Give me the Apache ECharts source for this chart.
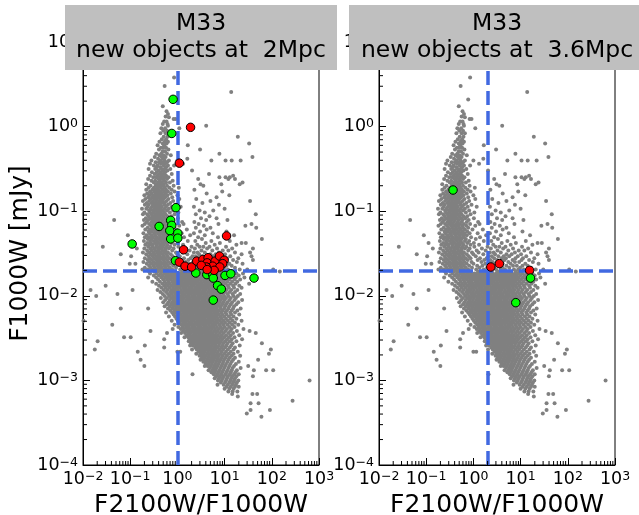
<!DOCTYPE html>
<html><head><meta charset="utf-8">
<script src="https://cdn.jsdelivr.net/npm/echarts@6/dist/echarts.min.js"></script>
<style>html,body{margin:0;padding:0;background:#fff}#c{width:639px;height:515px}</style>
</head><body><div id="c"></div>
<script>
// ---------- text ----------
const panelTitles = ['M33\nnew objects at  2Mpc', 'M33\nnew objects at  3.6Mpc'];
const xName = 'F2100W/F1000W';
const yName = 'F1000W [mJy]';
// ---------- axes ----------
const xTicks = [0.01, 0.1, 1, 10, 100, 1000];
const yTicks = [0.0001, 0.001, 0.01, 0.1, 1, 10];
// ---------- cut lines ----------
const xCuts = [1, 2];      // vertical dashed line, per panel
const yCut = 0.02;         // horizontal dashed line (mJy)
// ---------- gray background sources (same in both panels) ----------
// each row: [log10(F1000W), log10(ratio), log10(ratio), ...]
const grayRows = [
[0.58,-0.07],[0.48,-0.27],[0.41,1.14],[0.32,-0.11],[0.24,-0.31],[0.18,-0.23],[0.15,-0.20],[0.12,-0.25],[0.11,-0.18],
[0.09,-0.08,-0.04],[0.06,-0.23,-0.28],[0.03,-0.31,-0.21],[0.01,-0.20,0.61],[-0.02,-0.26,-0.34,0.04],[-0.05,-0.22,-0.30],
[-0.08,-0.36,-0.25,-0.18],[-0.12,-0.29,-0.21,1.28],[-0.15,-0.33,-0.24],[-0.18,-0.38,-0.27,-0.20],[-0.20,-0.31,-0.23,1.52],
[-0.22,-0.42,-0.28,0.22],[-0.25,-0.35,-0.24,-0.30],[-0.27,-0.39,-0.19,0.48],[-0.29,-0.31,-0.26],[-0.32,-0.45,-0.34,-0.22,0.89],
[-0.34,-0.38,-0.29,-0.14],[-0.36,-0.48,-0.33,-0.25,1.59],[-0.38,-0.41,-0.30,0.21],[-0.40,-0.55,-0.36,-0.27,-0.18,0.00,0.72,1.02,1.15,1.34],
[-0.42,-0.46,-0.39,-0.31,-0.22],[-0.44,-0.58,-0.35,-0.26,0.12],[-0.46,-0.50,-0.42,-0.29,-0.20,-0.07],[-0.48,-0.44,-0.36,-0.24],
[-0.50,-0.61,-0.47,-0.33,-0.27,-0.15],[-0.52,-0.40,-0.30,-0.21,0.31],[-0.54,-0.54,-0.44,-0.35,-0.26],[-0.56,-0.48,-0.38,-0.29,-0.12,0.67],
[-0.58,-0.58,-0.42,-0.33,-0.24,1.18],[-0.60,-0.51,-0.45,-0.36,-0.27,-0.19,0.89,1.02,1.11],[-0.62,-0.62,-0.40,-0.31,-0.22,0.44,1.22,1.08],
[-0.64,-0.55,-0.47,-0.37,-0.28,-0.10],[-0.66,-0.50,-0.41,-0.33,-0.24,-0.16,1.38],[-0.68,-0.66,-0.45,-0.36,-0.29,0.49,0.93,1.32],
[-0.700,-0.57,-0.46,-0.39,-0.31,-0.22,-0.08,0.55],
[-0.722,-0.61,-0.50,-0.43,-0.35,-0.27,-0.17,0.03],
[-0.745,-0.66,-0.53,-0.47,-0.40,-0.32,-0.24,-0.12,0.36],
[-0.768,-0.58,-0.49,-0.42,-0.36,-0.28,-0.20,-0.06,0.95],
[-0.790,-0.64,-0.55,-0.46,-0.39,-0.33,-0.25,-0.14,0.62],
[-0.812,-0.70,-0.59,-0.51,-0.44,-0.37,-0.29,-0.21,0.00,1.10],
[-0.835,-0.62,-0.53,-0.47,-0.41,-0.34,-0.26,-0.11,0.83],
[-0.857,-0.68,-0.57,-0.49,-0.43,-0.36,-0.30,-0.19,0.04,0.40],
[-0.880,-0.73,-0.60,-0.52,-0.45,-0.38,-0.31,-0.23,-0.09,0.70,1.54],
[-0.902,-0.65,-0.55,-0.48,-0.41,-0.34,-0.27,-0.15,0.53],
[-0.925,-0.69,-0.61,-0.51,-0.44,-0.37,-0.28,-0.20,-0.04,0.88],
[-0.947,-0.63,-0.54,-0.47,-0.40,-0.33,-0.24,-0.12,0.07,0.35],
[-0.970,-0.75,-0.66,-0.57,-0.49,-0.42,-0.35,-0.27,-0.18,1.00],
[-0.992,-0.60,-0.52,-0.45,-0.38,-0.31,-0.22,-0.09,0.47,0.76],
[-1.015,-0.70,-0.58,-0.50,-0.43,-0.36,-0.28,-0.16,0.02,0.58],
[-1.037,-0.73,-0.64,-0.55,-0.47,-0.40,-0.33,-0.25,-0.06,0.39,1.66],
[-1.060,-0.61,-0.52,-0.45,-0.38,-0.30,-0.21,-0.13,0.68],
[-1.082,-0.67,-0.57,-0.49,-0.42,-0.35,-0.26,-0.17,0.01,0.50,0.83],
[-1.105,-1.34,-0.71,-0.62,-0.53,-0.46,-0.39,-0.31,-0.23,-0.10,0.61,1.06],
[-1.127,-0.65,-0.55,-0.48,-0.41,-0.33,-0.25,-0.14,0.10,0.36],
[-1.150,-0.69,-0.60,-0.51,-0.44,-0.36,-0.29,-0.20,-0.07,0.13,0.45,0.87,1.57],
[-1.172,-0.74,-0.56,-0.47,-0.40,-0.32,-0.24,-0.15,0.04,0.56,1.44],
[-1.195,-0.63,-0.53,-0.45,-0.37,-0.30,-0.22,-0.11,0.39,0.70,1.67],
[-1.217,-0.68,-0.58,-0.50,-0.42,-0.35,-0.27,-0.18,-0.02,0.20,0.62],
[-1.240,-0.61,-0.54,-0.46,-0.39,-0.31,-0.23,-0.13,0.48,1.04],
[-1.262,-0.72,-0.59,-0.49,-0.41,-0.34,-0.26,-0.19,-0.08,0.09,0.35,0.75],
[-1.285,-1.05,-0.65,-0.55,-0.47,-0.38,-0.30,-0.22,-0.14,0.27,0.58,1.20],
[-1.307,-0.69,-0.60,-0.52,-0.44,-0.36,-0.28,-0.20,-0.05,0.14,0.44,0.86],
[-1.330,-0.63,-0.55,-0.46,-0.39,-0.32,-0.25,-0.16,0.05,0.52,1.79],
[-1.352,-0.71,-0.58,-0.50,-0.43,-0.35,-0.27,-0.18,-0.09,0.22,0.38,0.72,1.11],
[-1.375,-0.95,-0.64,-0.56,-0.47,-0.40,-0.32,-0.24,-0.13,0.01,0.60,0.90,1.45,1.36],
[-1.397,-0.68,-0.59,-0.52,-0.44,-0.36,-0.29,-0.21,-0.06,0.12,0.42,0.79,1.25],
[-1.420,-1.58,-0.62,-0.53,-0.45,-0.38,-0.31,-0.23,-0.15,0.02,0.30,0.47,0.55,0.68,1.03],
[-1.442,-0.86,-0.70,-0.57,-0.49,-0.41,-0.34,-0.26,-0.18,-0.08,0.18,0.37,0.63,0.84,1.16,1.60],
[-1.465,-0.64,-0.55,-0.47,-0.40,-0.32,-0.25,-0.11,0.07,0.26,0.51,0.74,0.96,1.08],
[-1.487,-0.73,-0.60,-0.51,-0.43,-0.36,-0.28,-0.20,-0.03,0.11,0.35,0.43,0.58,0.88,1.22,1.54],
[-1.510,-1.20,-0.66,-0.56,-0.48,-0.39,-0.31,-0.23,-0.14,0.00,0.21,0.46,0.70,0.81,1.01,1.36],
[-1.532,-0.98,-0.61,-0.52,-0.44,-0.37,-0.29,-0.21,-0.10,0.05,0.32,0.39,0.53,0.64,0.76,0.94,1.12,1.57],
[-1.555,-0.69,-0.58,-0.49,-0.41,-0.33,-0.26,-0.17,-0.06,0.14,0.28,0.44,0.60,0.69,0.89,1.05,1.29],
[-1.577,-0.63,-0.54,-0.45,-0.38,-0.30,-0.22,-0.12,0.09,0.23,0.36,0.50,0.66,0.83,1.02,1.18,1.60],
[-1.600,-0.72,-0.59,-0.50,-0.42,-0.35,-0.27,-0.19,-0.04,0.17,0.33,0.41,0.57,0.74,0.88,0.97,1.26],
[-1.622,-1.01,-0.89,-0.65,-0.55,-0.47,-0.39,-0.31,-0.24,-0.14,0.00,0.25,0.47,0.52,0.62,0.79,1.10,1.38],
[-1.645,-0.60,-0.51,-0.43,-0.36,-0.28,-0.20,-0.09,0.08,0.19,0.38,0.55,0.70,0.84,0.92,1.04,1.15],
[-1.667,-0.69,-0.57,-0.48,-0.40,-0.33,-0.25,-0.16,-0.03,0.13,0.29,0.44,0.62,0.76,0.99,1.22],
[-1.690,-0.74,-0.63,-0.53,-0.45,-0.37,-0.29,-0.21,-0.11,0.06,0.22,0.34,0.48,0.58,0.67,0.86,0.95,1.07,1.32,1.48,2.03],
[-1.712,-0.60,-0.49,-0.41,-0.33,-0.25,-0.17,-0.07,0.10,0.19,0.31,0.39,0.51,0.65,0.78,0.90,0.98,1.17,2.17],
[-1.735,-0.58,-0.44,-0.35,-0.27,-0.20,-0.12,-0.05,0.02,0.09,0.15,0.22,0.28,0.35,0.41,0.48,0.55,0.61,0.68,0.74,0.81,0.88,0.95,1.03,1.12,1.25,1.39],
[-1.760,-0.50,-0.39,-0.31,-0.23,-0.16,-0.09,-0.01,0.05,0.12,0.19,0.25,0.32,0.38,0.45,0.51,0.58,0.64,0.71,0.78,0.85,0.91,0.99,1.08,1.18,1.30],
[-1.784,-0.62,-0.45,-0.34,-0.26,-0.18,-0.11,-0.04,0.03,0.09,0.16,0.23,0.29,0.36,0.42,0.49,0.56,0.62,0.69,0.75,0.82,0.89,0.96,1.05,1.14,1.24,1.42],
[-1.808,-0.41,-0.30,-0.22,-0.14,-0.07,0.00,0.07,0.13,0.20,0.27,0.33,0.40,0.46,0.53,0.59,0.66,0.73,0.79,0.86,0.93,1.01,1.10,1.21,1.33],
[-1.833,-0.53,-0.37,-0.27,-0.19,-0.11,-0.04,0.04,0.10,0.17,0.24,0.30,0.37,0.43,0.50,0.57,0.63,0.70,0.76,0.83,0.90,0.98,1.06,1.16,1.27],
[-1.857,-0.45,-0.32,-0.24,-0.16,-0.08,-0.01,0.06,0.13,0.19,0.26,0.33,0.39,0.46,0.52,0.59,0.65,0.72,0.79,0.86,0.94,1.02,1.12,1.23,1.52],
[-1.881,-1.52,-0.39,-0.28,-0.20,-0.12,-0.05,0.02,0.09,0.16,0.22,0.29,0.35,0.42,0.48,0.55,0.62,0.68,0.75,0.82,0.89,0.97,1.07,1.18,1.31],
[-1.905,-0.34,-0.25,-0.17,-0.09,-0.02,0.05,0.12,0.18,0.25,0.31,0.38,0.44,0.51,0.57,0.64,0.71,0.77,0.84,0.92,1.00,1.09,1.20,1.36],
[-1.930,-1.84,-0.95,-0.42,-0.29,-0.21,-0.13,-0.06,0.01,0.08,0.15,0.21,0.28,0.34,0.41,0.47,0.54,0.60,0.67,0.74,0.80,0.87,0.95,1.04,1.14,1.27],
[-1.954,-0.36,-0.24,-0.15,-0.08,-0.01,0.06,0.12,0.19,0.25,0.32,0.38,0.45,0.52,0.58,0.65,0.71,0.78,0.85,0.93,1.01,1.11,1.22],
[-1.978,-1.27,-0.31,-0.20,-0.12,-0.04,0.03,0.10,0.16,0.23,0.29,0.36,0.42,0.49,0.55,0.62,0.69,0.75,0.82,0.89,0.97,1.06,1.17,1.33],
[-2.003,-1.72,-0.27,-0.17,-0.09,-0.02,0.05,0.11,0.18,0.24,0.31,0.37,0.44,0.50,0.57,0.63,0.70,0.77,0.84,0.91,0.99,1.08,1.19,1.28],
[-2.027,-0.35,-0.22,-0.13,-0.06,0.01,0.08,0.14,0.21,0.27,0.34,0.40,0.47,0.53,0.60,0.66,0.73,0.80,0.87,0.95,1.03,1.13,1.24],
[-2.051,-0.26,-0.16,-0.08,-0.01,0.06,0.12,0.19,0.26,0.32,0.39,0.45,0.52,0.58,0.65,0.71,0.78,0.85,0.92,1.00,1.10,1.21,1.37],
[-2.076,-0.30,-0.19,-0.11,-0.04,0.03,0.10,0.16,0.23,0.29,0.36,0.42,0.49,0.55,0.62,0.68,0.75,0.82,0.89,0.97,1.06,1.16,1.29],
[-2.100,-0.22,-0.13,-0.06,0.01,0.08,0.14,0.21,0.28,0.34,0.41,0.47,0.54,0.60,0.67,0.73,0.80,0.87,0.95,1.03,1.13,1.25],
[-2.124,-0.27,-0.16,-0.08,-0.01,0.06,0.12,0.19,0.25,0.32,0.38,0.45,0.51,0.58,0.64,0.71,0.78,0.85,0.92,1.01,1.10,1.20],
[-2.149,-1.20,-0.62,-0.20,-0.11,-0.03,0.04,0.11,0.17,0.24,0.30,0.37,0.43,0.50,0.56,0.63,0.70,0.76,0.83,0.91,0.99,1.08,1.18,1.34],
[-2.173,-0.15,-0.06,0.01,0.08,0.15,0.21,0.28,0.34,0.41,0.47,0.54,0.60,0.67,0.74,0.81,0.88,0.96,1.05,1.15,1.27],
[-2.197,-0.24,-0.11,-0.03,0.05,0.12,0.18,0.25,0.31,0.38,0.44,0.51,0.57,0.64,0.71,0.78,0.85,0.93,1.02,1.12,1.22],
[-2.222,-0.08,0.00,0.07,0.14,0.20,0.27,0.33,0.40,0.46,0.53,0.60,0.66,0.73,0.80,0.87,0.95,1.04,1.14,1.31],
[-2.246,-0.18,-0.05,0.03,0.10,0.17,0.23,0.30,0.36,0.43,0.49,0.56,0.62,0.69,0.76,0.83,0.91,0.99,1.09,1.19],
[-2.270,-0.02,0.06,0.13,0.19,0.26,0.32,0.39,0.45,0.52,0.58,0.65,0.72,0.79,0.86,0.94,1.03,1.13,1.25],
[-2.295,-1.99,-0.12,0.01,0.09,0.16,0.22,0.29,0.35,0.42,0.48,0.55,0.61,0.68,0.75,0.82,0.90,0.98,1.07,1.17,1.36],
[-2.319,0.04,0.12,0.18,0.25,0.31,0.38,0.44,0.51,0.57,0.64,0.71,0.78,0.85,0.93,1.01,1.11,1.22],
[-2.343,-1.38,-0.06,0.08,0.15,0.21,0.28,0.34,0.41,0.47,0.54,0.60,0.67,0.74,0.81,0.89,0.97,1.06,1.16,1.29],
[-2.368,0.02,0.11,0.18,0.24,0.31,0.37,0.44,0.50,0.57,0.63,0.70,0.77,0.84,0.92,1.00,1.10,1.21],
[-2.392,-0.10,0.07,0.14,0.21,0.27,0.34,0.40,0.47,0.53,0.60,0.66,0.73,0.80,0.88,0.96,1.05,1.15,1.40],
[-2.416,-0.57,0.12,0.19,0.25,0.32,0.38,0.45,0.51,0.58,0.64,0.71,0.78,0.85,0.93,1.02,1.12,1.26,1.53],
[-2.441,-0.22,0.08,0.16,0.23,0.29,0.36,0.42,0.49,0.55,0.62,0.68,0.75,0.82,0.90,0.98,1.08,1.18,1.66],
[-2.465,0.20,0.26,0.33,0.39,0.46,0.52,0.59,0.65,0.72,0.79,0.86,0.94,1.03,1.13,1.31],
[-2.489,-1.13,-0.99,0.15,0.23,0.30,0.36,0.43,0.49,0.56,0.62,0.69,0.76,0.83,0.91,0.99,1.09,1.21],
[-2.514,-0.28,0.26,0.33,0.39,0.46,0.52,0.59,0.66,0.73,0.80,0.87,0.95,1.05,1.15,1.37],
[-2.538,-1.69,0.24,0.31,0.37,0.44,0.50,0.57,0.63,0.70,0.77,0.84,0.92,1.01,1.11,1.25],
[-2.562,0.29,0.35,0.42,0.48,0.55,0.61,0.68,0.75,0.82,0.89,0.97,1.06,1.17,1.79],
[-2.587,-0.69,0.27,0.33,0.40,0.46,0.53,0.60,0.66,0.73,0.80,0.88,0.96,1.04,1.14,1.32],
[-2.611,-0.28,0.38,0.44,0.51,0.57,0.64,0.71,0.78,0.85,0.93,1.01,1.11,1.22],
[-2.635,-1.75,0.31,0.41,0.48,0.54,0.61,0.68,0.74,0.81,0.89,0.97,1.07,1.19,1.98],
[-2.660,-0.84,0.00,0.06,0.45,0.52,0.58,0.65,0.72,0.79,0.86,0.94,1.03,1.13,1.28],
[-2.684,0.40,0.49,0.56,0.63,0.70,0.77,0.84,0.92,1.00,1.09,1.19,1.94],
[-2.708,0.47,0.54,0.60,0.67,0.74,0.81,0.88,0.96,1.05,1.15,1.33],
[-2.733,0.52,0.58,0.65,0.72,0.79,0.86,0.94,1.02,1.11,1.22],
[-2.757,-0.78,0.49,0.56,0.63,0.70,0.77,0.84,0.91,0.99,1.08,1.18,1.71],
[-2.781,0.55,0.61,0.68,0.75,0.82,0.89,0.97,1.06,1.15,1.30],
[-2.806,0.60,0.66,0.73,0.80,0.87,0.95,1.03,1.12,1.24],
[-2.830,-0.70,0.58,0.64,0.71,0.78,0.85,0.93,1.01,1.10,1.20,1.50],
[-2.854,0.69,0.76,0.83,0.91,0.99,1.08,1.17,1.34],
[-2.879,0.66,0.74,0.81,0.89,0.97,1.06,1.15,1.26,1.62,1.88,2.03],
[-2.903,0.72,0.79,0.87,0.95,1.04,1.13,1.23],
[-2.927,0.32,0.77,0.85,0.93,1.02,1.11,1.20,1.30],
[-2.952,0.82,0.90,0.98,1.07,1.16,1.25,1.60],
[-2.976,0.79,0.88,0.96,1.05,1.14,1.22],
[-3.000,0.86,0.94,1.03,1.12,1.20,1.29,2.80],
[-3.025,0.92,1.01,1.10,1.18,1.26],
[-3.050,0.85,0.98,1.07,1.16,1.24],
[-3.075,1.04,1.13,1.22,1.30],
[-3.100,1.00,1.10,1.19],
[-3.130,1.08,1.17,1.27],
[-3.160,1.16,1.59,1.69],
[-3.190,1.28],
[-3.24,2.44],[-3.27,1.55,1.72],[-3.35,1.55,1.96],[-3.39,1.47],[-3.43,1.78]
];
// ---------- new objects: [F2100W/F1000W, F1000W (mJy)] ----------
const greenLeft = [[0.81,2.1],[0.76,0.83],[0.93,0.11],[0.41,0.066],[0.72,0.078],[0.76,0.068],[0.69,0.059],[1.02,0.055],
  [0.72,0.047],[1.02,0.048],[0.11,0.041],[0.91,0.026],[2.45,0.0186],[4.2,0.0178],[5.6,0.0178],[5.75,0.0162],[10.2,0.0174],
  [13.5,0.0182],[42,0.0162],[7.1,0.0132],[8.5,0.012],[5.75,0.0089]];
const redLeft = [[1.9,0.98],[1.1,0.37],[11.0,0.051],[1.35,0.035],[1.1,0.025],[1.45,0.0224],[2.0,0.0219],[2.57,0.0257],
  [3.47,0.0269],[4.47,0.0282],[4.27,0.0245],[6.3,0.0257],[7.8,0.0295],[9.8,0.0263],[9.1,0.024],[5.6,0.0224],[4.1,0.0219],
  [3.2,0.0229],[7.9,0.0219],[6.0,0.020],[4.27,0.0204]];
const redRight = [[2.34,0.0219],[3.55,0.024],[15.5,0.020]];
const greenRight = [[0.37,0.178],[16.2,0.0162],[7.9,0.0083]];

// ---------- build ----------
const grayPts = [];
grayRows.forEach(r => { for (let i = 1; i < r.length; i++) grayPts.push([Math.pow(10, r[i]), Math.pow(10, r[0])]); });
const xMinor = [], yMinor = [];
for (let i = 0; i < xTicks.length - 1; i++) for (let m = 2; m <= 9; m++) xMinor.push([m * xTicks[i], yTicks[0]]);
for (let i = 0; i < yTicks.length - 1; i++) for (let m = 2; m <= 9; m++) yMinor.push([xTicks[0], m * yTicks[i]]);

const FONT = 'DejaVu Sans';
const rich = {
  b: {fontSize: 17.5, fontFamily: FONT, color: '#000', lineHeight: 18, padding: [6, 0, 0, 0], verticalAlign: 'bottom'},
  s: {fontSize: 12.5, fontFamily: FONT, color: '#000', lineHeight: 12, verticalAlign: 'top'}
};
function powLabel(v) {
  const e = Math.round(Math.log10(v));
  return '{b|10}{s|' + (e < 0 ? '\u2212' : '') + Math.abs(e) + '}';
}
const grids = [
  {left: 83, right: 320, top: 42, bottom: 50},
  {left: 379, right: 24, top: 42, bottom: 50}
];
grids.forEach(g => { g.show = true; g.borderColor = '#000'; g.borderWidth = 1; g.backgroundColor = 'transparent';
  g.containLabel = false; g.outerBoundsMode = 'none'; });
const xAxes = [0, 1].map(i => ({
  type: 'log', logBase: 10, gridIndex: i, min: xTicks[0], max: xTicks[xTicks.length - 1],
  name: xName, nameLocation: 'middle', nameGap: 14,
  nameTextStyle: {fontSize: 25, fontFamily: FONT, color: '#000'},
  axisLine: {show: true, lineStyle: {color: '#000', width: 1}},
  axisTick: {show: true, inside: true, length: 7, lineStyle: {color: '#000'}},
  axisLabel: {formatter: powLabel, rich: rich, margin: 5},
  splitLine: {show: false}
}));
const yAxes = [0, 1].map(i => ({
  type: 'log', logBase: 10, gridIndex: i, min: yTicks[0], max: yTicks[yTicks.length - 1],
  name: i === 0 ? yName : '', nameLocation: 'middle', nameGap: 42,
  nameTextStyle: {fontSize: 25, fontFamily: FONT, color: '#000'},
  axisLine: {show: true, lineStyle: {color: '#000', width: 1}},
  axisTick: {show: true, inside: true, length: 7, lineStyle: {color: '#000'}},
  axisLabel: {formatter: powLabel, rich: rich, margin: 5},
  splitLine: {show: false}
}));

function minorSeries(i, data, horiz) {
  return {
    type: 'custom', xAxisIndex: i, yAxisIndex: i, data: data, clip: false, silent: true, z: 20,
    renderItem: (params, api) => {
      const p = api.coord([api.value(0), api.value(1)]);
      return {type: 'line', shape: horiz ? {x1: p[0], y1: p[1], x2: p[0] + 4, y2: p[1]} : {x1: p[0], y1: p[1], x2: p[0], y2: p[1] - 4},
        style: {stroke: '#000', lineWidth: 1}};
    }
  };
}
const series = [];
[0, 1].forEach(i => {
  series.push({
    type: 'scatter', xAxisIndex: i, yAxisIndex: i, data: grayPts, symbolSize: 4, z: 2,
    itemStyle: {color: '#808080', opacity: 1}, silent: true, large: false, progressive: 0,
    markLine: {
      silent: true, symbol: 'none', z: 5, label: {show: false},
      lineStyle: {color: '#4169e1', width: 3.5, type: [14, 6]},
      data: [{xAxis: xCuts[i]}, {yAxis: yCut}]
    }
  });
  const marks = i === 0 ? [['#00ff00', greenLeft], ['#ff0000', redLeft]] : [['#ff0000', redRight], ['#00ff00', greenRight]];
  marks.forEach((m, k) => series.push({
    type: 'scatter', xAxisIndex: i, yAxisIndex: i, data: m[1], symbolSize: 8.5, z: 6 + k,
    itemStyle: {color: m[0], borderColor: '#000', borderWidth: 1, opacity: 1}
  }));
  series.push(minorSeries(i, xMinor, false));
  series.push(minorSeries(i, yMinor, true));
});

const boxes = [{x: 65, w: 272}, {x: 349, w: 296}];
const graphic = [];
boxes.forEach((b, i) => {
  graphic.push({type: 'rect', z: 100, shape: {x: b.x, y: 5, width: b.w, height: 65}, style: {fill: '#bfbfbf'}});
  graphic.push({type: 'text', z: 101, x: b.x + b.w / 2, y: 37.5,
    style: {text: panelTitles[i], fontSize: 23.5, fontFamily: FONT, fill: '#000', textAlign: 'center', verticalAlign: 'middle', lineHeight: 27}});
});

const chart = echarts.init(document.getElementById('c'), null, {renderer: 'canvas'});
chart.setOption({
  animation: false, backgroundColor: '#fff',
  grid: grids, xAxis: xAxes, yAxis: yAxes, series: series, graphic: graphic
});
</script></body></html>
